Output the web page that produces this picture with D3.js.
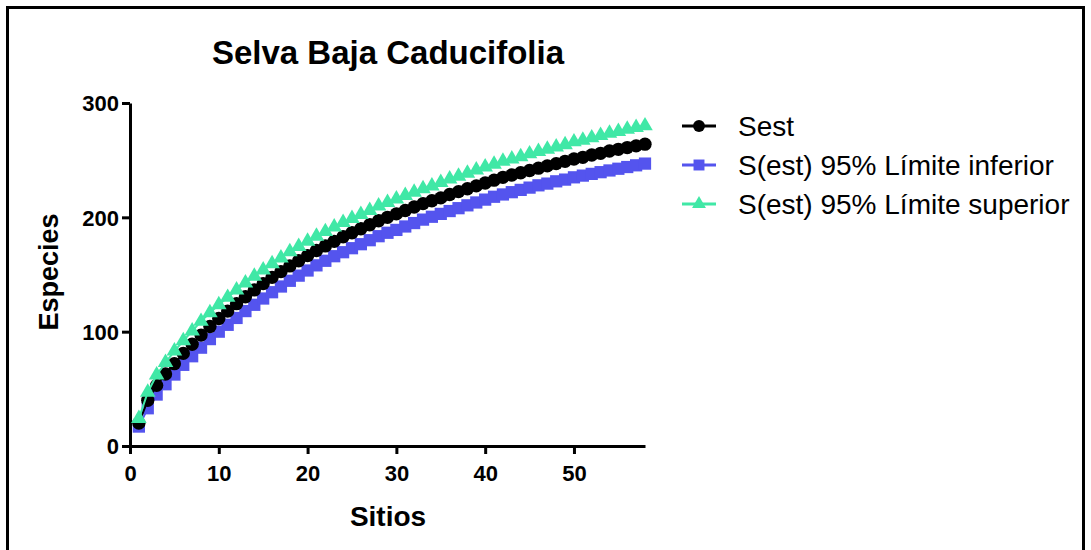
<!DOCTYPE html>
<html>
<head>
<meta charset="utf-8">
<script src="https://cdn.jsdelivr.net/npm/d3@7"></script>
<style>
  html, body { margin: 0; padding: 0; background: #fff; }
  svg { display: block; font-family: "Liberation Sans", Arial, sans-serif; }
</style>
</head>
<body>
<svg id="chart" width="1091" height="550"></svg>
<script>
const title = "Selva Baja Caducifolia";
const xLabel = "Sitios";
const yLabel = "Especies";
const xTicks = [0, 10, 20, 30, 40, 50];
const yTicks = [0, 100, 200, 300];
const sitios = [1,2,3,4,5,6,7,8,9,10,11,12,13,14,15,16,17,18,19,20,21,22,23,24,25,26,27,28,29,30,31,32,33,34,35,36,37,38,39,40,41,42,43,44,45,46,47,48,49,50,51,52,53,54,55,56,57,58];
const sest = [20,40,53,63,72,81,89,97,104.5,111.5,118,124.5,130.5,136.5,142,147.5,152.5,157.5,162,166.5,171,175,179,183,186.5,190,193.5,197,200,203,206,209,212,214.5,217,220,222.5,225,227.5,230,232.5,235,237,239,241,243,245,247,249,251,252.5,254.5,256,258,259.5,261,262.5,264];
const lower = [17,33,45,54,62.5,71,78.5,86,93.5,100,106,112,118,123.5,129,134.5,139.5,144.5,149,153.5,158,162,166,169.5,173,176.5,180,183.5,186.5,189,192,195,198,200.5,203,205.5,208,210.5,213,215.5,218,220,222,224,226,228,229.5,231.5,233,235,236.5,238,239.5,241,242.5,244,245.5,247];
const upper = [24,47,62,73,83,92,100.5,109,116.5,123.5,130,136.5,142.5,148.5,154,159.5,164.5,170,174.5,179,183.5,187.5,191.5,195.5,199,202.5,206,210,213,216,219,222,225,227.5,230.5,233.5,236,238.5,241.5,244,246.5,249,251,253,255.5,257.5,259.5,261.5,263.5,266,267.5,269.5,271.5,273.5,275,277,278.5,280];
const seriesNames = ["Sest", "S(est) 95% Límite inferior", "S(est) 95% Límite superior"];
const seriesColors = ["#000000", "#5454EE", "#40E8A6"];
const seriesSymbols = ["circle", "square", "triangle"];

const svg = d3.select("#chart");

// outer frame
svg.append("rect").attr("x", 7.5).attr("y", 7.5).attr("width", 1076).attr("height", 600)
  .attr("fill", "none").attr("stroke", "#000").attr("stroke-width", 3);

const x = d3.scaleLinear().domain([0, 58]).range([130, 645]);
const y = d3.scaleLinear().domain([0, 300]).range([446, 103]);

// title
svg.append("text").attr("x", 388).attr("y", 64).attr("text-anchor", "middle")
  .attr("font-size", 33).attr("font-weight", "bold").text(title);

// axes
const xAxis = svg.append("g").attr("transform", "translate(0,446)")
  .call(d3.axisBottom(x).tickValues(xTicks).tickSize(8).tickSizeOuter(0).tickPadding(11));
const yAxis = svg.append("g").attr("transform", "translate(130,0)")
  .call(d3.axisLeft(y).tickValues(yTicks).tickSize(8).tickSizeOuter(0).tickPadding(3));
[xAxis, yAxis].forEach(g => {
  g.select(".domain").attr("stroke", "#000").attr("stroke-width", 3);
  g.selectAll(".tick line").attr("stroke", "#000").attr("stroke-width", 3);
  g.selectAll(".tick text").attr("fill", "#000").attr("font-size", 22).attr("font-weight", "bold")
    .attr("font-family", "Liberation Sans, Arial, sans-serif");
});
yAxis.selectAll(".tick text").attr("dy", "0.36em");

svg.append("text").attr("x", 388).attr("y", 526).attr("text-anchor", "middle")
  .attr("font-size", 28).attr("font-weight", "bold").text(xLabel);
svg.append("text").attr("transform", "translate(58,272) rotate(-90)").attr("text-anchor", "middle")
  .attr("font-size", 27).attr("font-weight", "bold").text(yLabel);

const symbolFor = s => s === "circle" ? d3.symbolCircle : s === "square" ? d3.symbolSquare : d3.symbolTriangle;
const symbolSize = s => s === "circle" ? 140 : s === "square" ? 150 : 105;

const data = [sest, lower, upper];
const drawOrder = [1, 0, 2];
const line = d3.line().x((d, i) => x(sitios[i])).y(d => y(d));
drawOrder.forEach(k => {
  const g = svg.append("g");
  g.append("path").datum(data[k]).attr("d", line).attr("fill", "none")
    .attr("stroke", seriesColors[k]).attr("stroke-width", 2);
  g.selectAll("path.pt").data(data[k]).join("path").attr("class", "pt")
    .attr("transform", (d, i) => `translate(${x(sitios[i])},${y(d)})`)
    .attr("d", d3.symbol().type(symbolFor(seriesSymbols[k])).size(symbolSize(seriesSymbols[k])))
    .attr("fill", seriesColors[k]);
});

// legend
const legY = [126, 165, 204];
seriesNames.forEach((name, k) => {
  const g = svg.append("g").attr("transform", `translate(0,${legY[k]})`);
  g.append("line").attr("x1", 682).attr("x2", 716).attr("y1", 0).attr("y2", 0)
    .attr("stroke", seriesColors[k]).attr("stroke-width", 3);
  g.append("path").attr("transform", "translate(699,0)")
    .attr("d", d3.symbol().type(symbolFor(seriesSymbols[k])).size(symbolSize(seriesSymbols[k]) * 0.8))
    .attr("fill", seriesColors[k]);
  g.append("text").attr("x", 738).attr("y", 10).attr("font-size", 28).attr("fill", "#000").text(name);
});
</script>
</body>
</html>
